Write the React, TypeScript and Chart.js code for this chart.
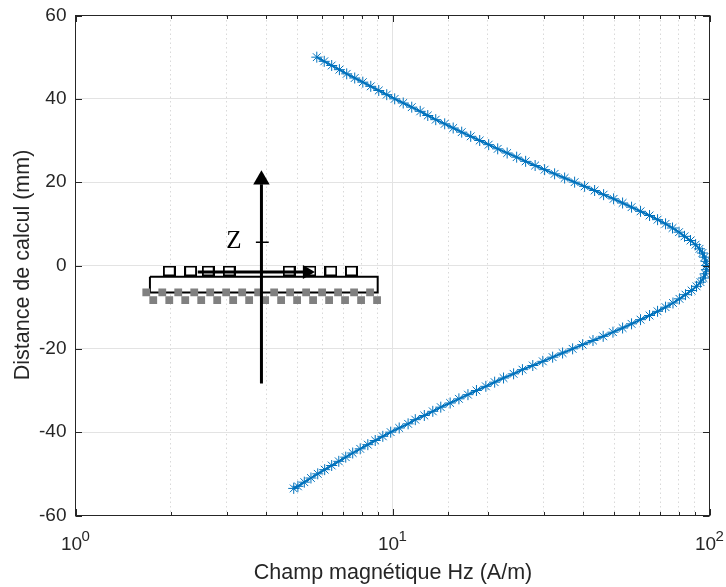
import { useEffect, useRef } from "react";
import { Chart, registerables } from "chart.js";

Chart.register(...registerables);

const depth = [
  50, 49, 48, 47, 46, 45, 44, 43, 42, 41, 40, 39, 38, 37, 36, 35, 34, 33, 32, 31, 30, 29, 28, 27, 26, 25, 24, 23, 22, 21,
  20, 19, 18, 17, 16, 15, 14, 13, 12, 11, 10, 9, 8, 7, 6, 5, 4, 3, 2, 1, 0, -1, -2, -3, -4, -5, -6, -7, -8, -9,
  -10, -11, -12, -13, -14, -15, -16, -17, -18, -19, -20, -21, -22, -23, -24, -25, -26, -27, -28, -29,
  -30, -31, -32, -33, -34, -35, -36, -37, -38, -39, -40, -41, -42, -43, -44, -45, -46, -47, -48, -49,
  -50, -51, -52, -53, -53.5,
];
const field = [
  5.77, 6.09, 6.43, 6.8, 7.17, 7.6, 8.06, 8.54, 9.05, 9.59, 10.16, 10.81, 11.5, 12.23, 12.92, 13.69, 14.61, 15.54, 16.53, 17.65,
  18.84, 20.11, 21.47, 23.0, 24.64, 26.3, 28.18, 30.19, 32.46, 34.91, 37.54, 40.37, 43.41, 46.34, 49.83, 53.19, 56.77, 60.6, 64.7, 68.58,
  72.67, 76.44, 80.14, 83.4, 87.1, 90.4, 93.0, 95.0, 96.4, 97.5, 97.8, 97.8, 97.1, 95.7, 93.7, 91.0, 87.8, 84.0, 80.4, 76.7,
  72.67, 68.58, 64.7, 60.6, 56.77, 53.19, 49.6, 46.2, 42.9, 39.8, 37.0, 34.4, 32.0, 29.8, 27.7, 25.7, 24.1, 22.4, 21.0, 19.7,
  18.4, 17.3, 16.2, 15.2, 14.2, 13.4, 12.6, 11.8, 11.2, 10.5, 9.87, 9.32, 8.82, 8.36, 7.91, 7.49, 7.12, 6.77, 6.43, 6.11,
  5.81, 5.53, 5.27, 5.03, 4.88,
];

const yTickValues = [60, 40, 20, 0, -20, -40, -60];
const xDecades = [1, 10, 100];
const xExponents = ["0", "1", "2"];
const xAxisTitle = "Champ magn\u00e9tique Hz (A/m)";
const yAxisTitle = "Distance de calcul (mm)";

// Sketch of the coil, in the units of the axes
const coilX = [1.976, 2.307, 2.622, 3.054, 4.72, 5.49, 6.39, 7.42];
const coilZ = [-1.32, -1.32, -1.32, -1.32, -1.32, -1.32, -1.32, -1.32];
const plateX = [1.717, 8.98, 8.98, 1.717, 1.717];
const plateZ = [-2.69, -2.69, -6.45, -6.45, -2.69];
const upperRowX = [1.672, 1.878, 2.109, 2.369, 2.66, 2.987, 3.356, 3.769, 4.233, 4.754, 5.34, 5.997, 6.735, 7.565, 8.496];
const upperRowZ = [-6.45, -6.45, -6.45, -6.45, -6.45, -6.45, -6.45, -6.45, -6.45, -6.45, -6.45, -6.45, -6.45, -6.45, -6.45];
const lowerRowX = [1.759, 1.976, 2.219, 2.492, 2.799, 3.143, 3.53, 3.965, 4.453, 5.001, 5.617, 6.31, 7.085, 7.96, 8.94];
const lowerRowZ = [-8.3, -8.3, -8.3, -8.3, -8.3, -8.3, -8.3, -8.3, -8.3, -8.3, -8.3, -8.3, -8.3, -8.3, -8.3];
const zArrowX = [3.86, 3.86];
const zArrowZ = [-28.3, 19.5];
const zHeadX = [3.86];
const zHeadZ = [20.6];
const rArrowX = [2.43, 5.29];
const rArrowZ = [-1.56, -1.56];
const rHeadX = [5.37];
const rHeadZ = [-1.56];
const zMarkX = [3.707, 4.07];
const zMarkZ = [5.58, 5.58];
const zLabel = "Z";
const zLabelX = 3.16;
const zLabelZ = 5.72;

const INK = "#262626";
const SANS = "'Liberation Sans', Arial, sans-serif";

const pts = (xs: number[], ys: number[]) => xs.map((x, i) => ({ x, y: ys[i] }));

function makeCoilSprite() {
  const c = document.createElement("canvas");
  c.width = 13;
  c.height = 11;
  const g = c.getContext("2d")!;
  g.fillStyle = "#fff";
  g.fillRect(0, 0, 13, 11);
  g.strokeStyle = "#000";
  g.lineWidth = 2;
  g.strokeRect(1, 1, 11, 9);
  return c;
}

const overlay = {
  id: "matlabFrame",
  afterDraw(chart: any) {
    const { ctx, chartArea: a, scales } = chart;
    const x = scales.x;
    const y = scales.y;
    ctx.save();
    ctx.strokeStyle = INK;
    ctx.lineWidth = 1;
    ctx.strokeRect(a.left, a.top, a.right - a.left, a.bottom - a.top);

    ctx.beginPath();
    x.ticks.forEach((t: any) => {
      const px = Math.round(x.getPixelForValue(t.value)) + 0.5;
      const len = xDecades.includes(t.value) ? 6.5 : 3.5;
      ctx.moveTo(px, a.bottom);
      ctx.lineTo(px, a.bottom - len);
      ctx.moveTo(px, a.top);
      ctx.lineTo(px, a.top + len);
    });
    yTickValues.forEach((v) => {
      const py = Math.round(y.getPixelForValue(v)) + 0.5;
      ctx.moveTo(a.left, py);
      ctx.lineTo(a.left + 6.5, py);
      ctx.moveTo(a.right, py);
      ctx.lineTo(a.right - 6.5, py);
    });
    ctx.stroke();

    ctx.fillStyle = INK;
    ctx.textBaseline = "alphabetic";
    ctx.textAlign = "left";
    xDecades.forEach((v, i) => {
      const px = x.getPixelForValue(v);
      ctx.font = `19px ${SANS}`;
      ctx.fillText("10", px - 14.5, 549.5);
      ctx.font = `15px ${SANS}`;
      ctx.fillText(xExponents[i], px + 6, 540.7);
    });

    ctx.font = `21.5px ${SANS}`;
    ctx.textAlign = "center";
    ctx.fillText(xAxisTitle, 393, 579);
    ctx.save();
    ctx.translate(29, 265);
    ctx.rotate(-Math.PI / 2);
    ctx.fillText(yAxisTitle, 0, 0);
    ctx.restore();

    ctx.fillStyle = "#000";
    ctx.font = "25px 'Liberation Serif', serif";
    ctx.textBaseline = "middle";
    ctx.fillText(zLabel, x.getPixelForValue(zLabelX), y.getPixelForValue(zLabelZ));
    ctx.restore();
  },
};

export default function App() {
  const ref = useRef<HTMLCanvasElement>(null);
  useEffect(() => {
    if (!ref.current) return;
    const black = "#000000";
    const grey = "#808080";
    const chart = new Chart(ref.current, {
      type: "scatter",
      plugins: [overlay],
      data: {
        datasets: [
          { data: pts(zHeadX, zHeadZ), pointStyle: "triangle", pointRadius: 9.5, pointBackgroundColor: black, pointBorderColor: black, pointBorderWidth: 0 },
          { data: pts(zArrowX, zArrowZ), showLine: true, borderColor: black, borderWidth: 3, pointRadius: 0 },
          { data: pts(zMarkX, zMarkZ), showLine: true, borderColor: black, borderWidth: 1.5, pointRadius: 0 },
          { data: pts(rHeadX, rHeadZ), pointStyle: "triangle", rotation: 90, pointRadius: 8, pointBackgroundColor: black, pointBorderColor: black, pointBorderWidth: 0 },
          { data: pts(rArrowX, rArrowZ), showLine: true, borderColor: black, borderWidth: 3, pointRadius: 0 },
          { data: pts(coilX, coilZ), pointStyle: makeCoilSprite(), pointRadius: 6 },
          { data: pts(upperRowX, upperRowZ), pointStyle: "rect", pointRadius: 5.5, pointBackgroundColor: grey, pointBorderColor: grey, pointBorderWidth: 0 },
          { data: pts(lowerRowX, lowerRowZ), pointStyle: "rect", pointRadius: 5.5, pointBackgroundColor: grey, pointBorderColor: grey, pointBorderWidth: 0 },
          { data: pts(plateX, plateZ), showLine: true, fill: "shape", backgroundColor: "#ffffff", borderColor: black, borderWidth: 2, pointRadius: 0 },
          {
            label: "Hz",
            data: pts(field, depth),
            showLine: true,
            tension: 0,
            borderColor: "#0072BD",
            borderWidth: 2,
            pointStyle: "star",
            pointRadius: 5.5,
            pointBorderWidth: 1,
            pointBorderColor: "#0072BD",
            pointBackgroundColor: "#0072BD",
          },
        ],
      },
      options: {
        animation: false,
        responsive: false,
        devicePixelRatio: 1,
        layout: { padding: { top: 15.5, right: 16.5, left: 0, bottom: 0 } },
        plugins: { legend: { display: false }, tooltip: { enabled: false } },
        scales: {
          x: {
            type: "logarithmic",
            position: "bottom",
            min: 1,
            max: 100,
            afterFit: (s: any) => {
              s.height = 71.5;
              s.paddingLeft = 0;
              s.paddingRight = 0;
            },
            border: { display: false, dash: (c: any) => (xDecades.includes(c.tick?.value) ? [] : [1.5, 3]) },
            grid: {
              drawTicks: false,
              color: (c: any) => (xDecades.includes(c.tick?.value) ? "#e3e3e3" : "#d9d9d9"),
              lineWidth: 1,
            },
            ticks: { autoSkip: false, maxRotation: 0, callback: () => "" },
          },
          y: {
            min: -60,
            max: 60,
            afterFit: (s: any) => {
              s.width = 75.5;
              s.paddingTop = 0;
              s.paddingBottom = 0;
            },
            border: { display: false },
            grid: { drawTicks: false, color: "#e3e3e3", lineWidth: 1 },
            ticks: {
              stepSize: 20,
              padding: 9,
              color: INK,
              font: { family: SANS, size: 19 },
            },
          },
        },
      },
    } as any);
    return () => chart.destroy();
  }, []);
  return (
    <div style={{ position: "absolute", left: 0, top: 0, width: 726, height: 587, background: "#fff" }}>
      <canvas ref={ref} width={726} height={587} style={{ display: "block", width: 726, height: 587 }} />
    </div>
  );
}
